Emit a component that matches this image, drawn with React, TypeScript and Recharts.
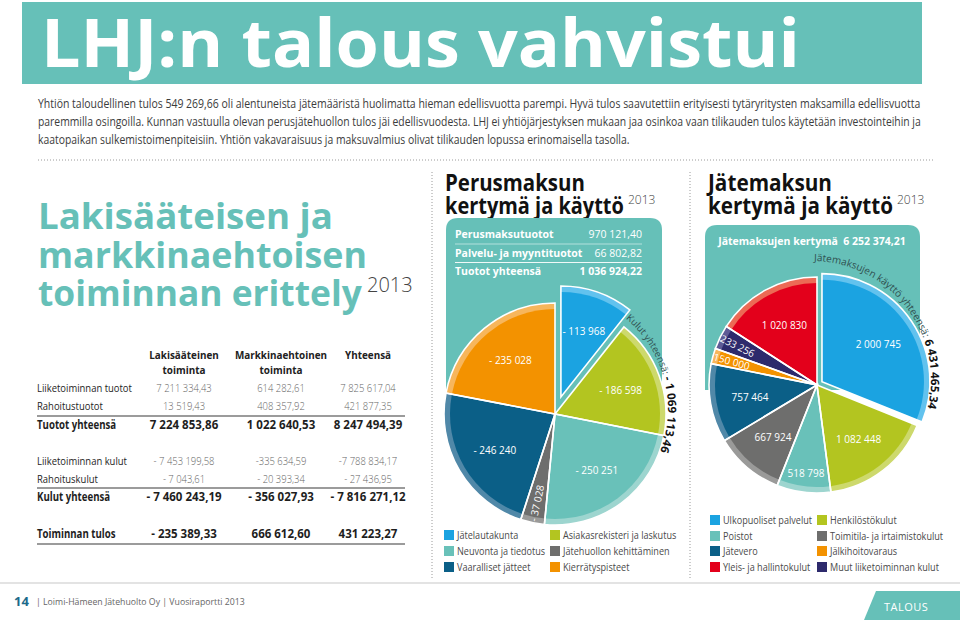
import React from "react";
import { PieChart, Pie, Cell } from "recharts";

const FONT = "'Open Sans', 'DejaVu Sans', sans-serif";
const TEAL = "#66c0b8";
const RAD = Math.PI / 180;

// intro text
const introLines = [
  "Yhtiön taloudellinen tulos 549 269,66 oli alentuneista jätemääristä huolimatta hieman edellisvuotta parempi. Hyvä tulos saavutettiin erityisesti tytäryritysten maksamilla edellisvuotta",
  "paremmilla osingoilla. Kunnan vastuulla olevan perusjätehuollon tulos jäi edellisvuodesta. LHJ ei yhtiöjärjestyksen mukaan jaa osinkoa vaan tilikauden tulos käytetään investointeihin ja",
  "kaatopaikan sulkemistoimenpiteisiin. Yhtiön vakavaraisuus ja maksuvalmius olivat tilikauden lopussa erinomaisella tasolla.",
];

// left table
const tableHeaders = [["Lakisääteinen", "toiminta"], ["Markkinaehtoinen", "toiminta"], ["Yhteensä"]];
const rowLabels = [
  "Liiketoiminnan tuotot",
  "Rahoitustuotot",
  "Tuotot yhteensä",
  "Liiketoiminnan kulut",
  "Rahoituskulut",
  "Kulut yhteensä",
  "Toiminnan tulos",
];
const lakisaateinen = ["7 211 334,43", "13 519,43", "7 224 853,86", "- 7 453 199,58", "- 7 043,61", "- 7 460 243,19", "- 235 389,33"];
const markkinaehtoinen = ["614 282,61", "408 357,92", "1 022 640,53", "-335 634,59", "- 20 393,34", "- 356 027,93", "666 612,60"];
const yhteensa = ["7 825 617,04", "421 877,35", "8 247 494,39", "-7 788 834,17", "- 27 436,95", "- 7 816 271,12", "431 223,27"];
const boldRows = [2, 5, 6];

// Perusmaksu
const perusTuototLabels = ["Perusmaksutuotot", "Palvelu- ja myyntituotot", "Tuotot yhteensä"];
const perusTuototValues = ["970 121,40", "66 802,82", "1 036 924,22"];
const perusNames = [
  "Jätelautakunta",
  "Asiakasrekisteri ja laskutus",
  "Neuvonta ja tiedotus",
  "Jätehuollon kehittäminen",
  "Vaaralliset jätteet",
  "Kierrätyspisteet",
];
const perusValues = [113968, 186598, 250251, 37028, 246240, 235028];
const perusColors = ["#1ba3e1", "#b3c520", "#69c1b9", "#6e6e6d", "#0b5f87", "#f39200"];
const perusRims = ["#62c2ee", "#cdd96c", "#9dd5cf", "#9a9a99", "#5088a8", "#f7b65c"];
const perusLegendOrder = [0, 2, 4, 1, 3, 5];

// Jätemaksu
const jateNames = [
  "Ulkopuoliset palvelut",
  "Henkilöstökulut",
  "Poistot",
  "Toimitila- ja irtaimistokulut",
  "Jätevero",
  "Jälkihoitovaraus",
  "Muut liiketoiminnan kulut",
  "Yleis- ja hallintokulut",
];
const jateValues = [2000745, 1082448, 518798, 667924, 757464, 150000, 233256, 1020830];
const jateColors = ["#1ba3e1", "#b3c520", "#69c1b9", "#6e6e6d", "#0b5f87", "#f39200", "#2d2a6c", "#e3001b"];
const jateRims = ["#62c2ee", "#cdd96c", "#9dd5cf", "#9a9a99", "#5088a8", "#f7b65c", "#5e5b96", "#ec6a55"];
const jateLegendOrder = [0, 2, 4, 7, 1, 3, 5, 6];

const fmt = (v: number) => String(v).replace(/\B(?=(\d{3})+(?!\d))/g, " ");

const measureCtx = typeof document !== "undefined" ? document.createElement("canvas").getContext("2d") : null;

// horizontal squeeze so that a line gets the printed width
function fitScale(text: string, size: number, weight: number, target: number) {
  if (!measureCtx) return 1;
  measureCtx.font = `${weight} ${size}px 'Open Sans', 'DejaVu Sans', sans-serif`;
  const w = measureCtx.measureText(text).width;
  return w > 0 ? target / w : 1;
}

function ST(props: any) {
  const { x, y, sx = 1, children, ...rest } = props;
  return (
    <text transform={`translate(${x} ${y}) scale(${sx} 1)`} {...rest}>
      {children}
    </text>
  );
}

function FitText(props: any) {
  const { text, size, weight = 400, width, ...rest } = props;
  return (
    <ST sx={fitScale(text, size, weight, width)} fontSize={size} fontWeight={weight} {...rest}>
      {text}
    </ST>
  );
}

function makeLabel(prefix: string, only: number | null, skip: number | null) {
  return (p: any) => {
    const { cx, cy, midAngle, outerRadius, percent, index, value } = p;
    if (only !== null && index !== only) return <g />;
    if (skip !== null && index === skip) return <g />;
    const span = percent * 360;
    const r = span < 35 ? outerRadius * 0.82 : outerRadius * 0.63;
    const x = cx + r * Math.cos(-midAngle * RAD);
    const y = cy + r * Math.sin(-midAngle * RAD);
    let rot = 0;
    if (span < 15) {
      rot = -(midAngle + 180);
      while (rot <= -180) rot += 360;
      while (rot > 180) rot -= 360;
    }
    return (
      <text
        x={x}
        y={y}
        transform={rot ? `rotate(${rot} ${x} ${y})` : undefined}
        textAnchor="middle"
        dominantBaseline="central"
        fill="#fff"
        fontSize={10}
        fontFamily={FONT}
      >
        {prefix + fmt(value)}
      </text>
    );
  };
}

function ExpensePie(props: {
  values: number[];
  names: string[];
  colors: string[];
  rims: string[];
  left: number;
  top: number;
  radius: number;
  explode: number;
  prefix: string;
}) {
  const { values, names, colors, rims, left, top, radius, explode, prefix } = props;
  const size = 300;
  const c = size / 2;
  const data = values.map((v, i) => ({ name: names[i], value: v }));
  const total = values.reduce((s, v) => s + v, 0);
  const mid = (90 - (values[0] / total) * 180) * RAD;
  const ex = c + explode * Math.cos(mid);
  const ey = c - explode * Math.sin(mid);
  const common = {
    data,
    dataKey: "value",
    startAngle: 90,
    endAngle: -270,
    isAnimationActive: false,
    labelLine: false,
  };
  return (
    <div style={{ position: "absolute", left: left - c, top: top - c }}>
      <PieChart width={size} height={size}>
        <Pie {...common} cx={c} cy={c} outerRadius={radius} stroke="none">
          {data.map((d, i) => (
            <Cell key={i} fill={i === 0 ? "transparent" : rims[i]} />
          ))}
        </Pie>
        <Pie {...common} cx={c} cy={c} outerRadius={radius - 6} stroke="none">
          {data.map((d, i) => (
            <Cell key={i} fill={i === 0 ? "transparent" : colors[i]} />
          ))}
        </Pie>
        <Pie {...common} cx={c} cy={c} outerRadius={radius} label={makeLabel(prefix, null, 0)}>
          {data.map((d, i) => (
            <Cell key={i} fill="none" stroke={i === 0 ? "none" : "#fff"} strokeWidth={1.6} />
          ))}
        </Pie>
        <Pie {...common} cx={ex} cy={ey} outerRadius={radius} stroke="none">
          {data.map((d, i) => (
            <Cell key={i} fill={i === 0 ? rims[i] : "transparent"} />
          ))}
        </Pie>
        <Pie {...common} cx={ex} cy={ey} outerRadius={radius - 6} stroke="none">
          {data.map((d, i) => (
            <Cell key={i} fill={i === 0 ? colors[i] : "transparent"} />
          ))}
        </Pie>
        <Pie {...common} cx={ex} cy={ey} outerRadius={radius} label={makeLabel(prefix, 0, null)}>
          {data.map((d, i) => (
            <Cell key={i} fill="none" stroke={i === 0 ? "#fff" : "none"} strokeWidth={1.6} />
          ))}
        </Pie>
      </PieChart>
    </div>
  );
}

function arc(cx: number, cy: number, r: number, a1: number, a2: number) {
  const x1 = cx + r * Math.cos(a1 * RAD);
  const y1 = cy - r * Math.sin(a1 * RAD);
  const x2 = cx + r * Math.cos(a2 * RAD);
  const y2 = cy - r * Math.sin(a2 * RAD);
  return `M ${x1} ${y1} A ${r} ${r} 0 ${a1 - a2 > 180 ? 1 : 0} 1 ${x2} ${y2}`;
}

function Legend(props: { names: string[]; colors: string[]; order: number[]; x: number[]; y: number[] }) {
  const { names, colors, order, x, y } = props;
  const perCol = y.length;
  return (
    <g>
      {order.map((idx, k) => {
        const col = Math.floor(k / perCol);
        const row = k % perCol;
        return (
          <g key={idx}>
            <rect x={x[col]} y={y[row] - 5} width={10} height={10} fill={colors[idx]} />
            <ST x={x[col] + 13} y={y[row] + 4} sx={0.79} fontSize={11.5} fill="#4a4a4a">
              {names[idx]}
            </ST>
          </g>
        );
      })}
    </g>
  );
}

export default function App() {
  const rowY = [392, 410, 429, 465, 483, 501, 538];
  const colX = [184, 281, 368];
  const cols = [lakisaateinen, markkinaehtoinen, yhteensa];
  return (
    <div style={{ position: "absolute", left: 0, top: 0, width: 960, height: 620, background: "#fff", overflow: "hidden" }}>
      <svg width={960} height={620} style={{ position: "absolute", left: 0, top: 0 }} fontFamily={FONT}>
        {/* banner */}
        <rect x={22} y={2} width={900} height={82} fill={TEAL} />
        <FitText x={41} y={67} fill="#fff" size={66} weight={700} width={759} text="LHJ:n talous vahvistui" />

        {introLines.map((t, i) => (
          <FitText key={i} x={38} y={108 + i * 18} size={12.5} fill="#3c3c3c" width={i === 2 ? 592 : 884} text={t} />
        ))}
        <line x1={38} y1={160} x2={935} y2={160} stroke="#9a9a9a" strokeDasharray="1 2" />
        <line x1={432} y1={172} x2={432} y2={578} stroke="#9a9a9a" strokeDasharray="1 2" />
        <line x1={690} y1={172} x2={690} y2={578} stroke="#9a9a9a" strokeDasharray="1 2" />

        {/* left heading */}
        <FitText x={38} y={229} fill={TEAL} size={36} weight={700} width={295} text="Lakisääteisen ja" />
        <FitText x={38} y={268} fill={TEAL} size={36} weight={700} width={329} text="markkinaehtoisen" />
        <FitText x={38} y={306} fill={TEAL} size={36} weight={700} width={324} text="toiminnan erittely" />
        <text x={367} y={292} fontSize={20} fill="#444" fontWeight={300}>2013</text>

        {/* table */}
        {tableHeaders.map((h, i) =>
          h.map((t, j) => (
            <ST key={i + "-" + j} x={colX[i]} y={359 + j * 15} sx={0.9} textAnchor="middle" fontSize={11} fontWeight={700} fill="#222">
              {t}
            </ST>
          ))
        )}
        {rowLabels.map((l, r) => {
          const bold = boldRows.includes(r);
          return (
            <g key={l}>
              <ST x={37} y={rowY[r]} sx={bold ? 0.84 : 0.86} fontSize={bold ? 11.5 : 11} fontWeight={bold ? 700 : 400} fill="#1e1e1e">
                {l}
              </ST>
              {cols.map((c, ci) => (
                <ST
                  key={ci}
                  x={colX[ci]}
                  y={rowY[r]}
                  sx={bold ? 1 : 0.9}
                  textAnchor="middle"
                  fontSize={bold ? 11.5 : 10.5}
                  fontWeight={bold ? 700 : 300}
                  fill={bold ? "#1e1e1e" : "#666"}
                >
                  {c[r]}
                </ST>
              ))}
            </g>
          );
        })}
        {[416, 488, 544].map((y) => (
          <line key={y} x1={37} y1={y} x2={405} y2={y} stroke="#7a7a7a" strokeWidth={1.6} />
        ))}

        {/* middle panel */}
        <FitText x={445} y={191} fill="#111" size={24} weight={700} width={140} text="Perusmaksun" />
        <FitText x={445} y={214} fill="#111" size={24} weight={700} width={179} text="kertymä ja käyttö" />
        <text x={628} y={204} fontSize={12} fill="#444" fontWeight={300}>2013</text>
        <path d="M446 412 V230 Q446 218 458 218 H650 Q662 218 662 230 V412 Z" fill={TEAL} />
        {perusTuototLabels.map((l, i) => (
          <g key={l} fontSize={10.5} fill="#fff">
            <text x={455} y={238 + i * 18.5} fontWeight={700}>{l}</text>
            <text x={642} y={238 + i * 18.5} textAnchor="end" fontWeight={i === 2 ? 700 : 400}>
              {perusTuototValues[i]}
            </text>
          </g>
        ))}
        <line x1={455} y1={244} x2={642} y2={244} stroke="#fff" strokeOpacity={0.5} />
        <line x1={455} y1={262.5} x2={642} y2={262.5} stroke="#fff" strokeOpacity={0.9} />

        {/* right panel */}
        <FitText x={708} y={191} fill="#111" size={24} weight={700} width={124} text="Jätemaksun" />
        <FitText x={708} y={214} fill="#111" size={24} weight={700} width={185} text="kertymä ja käyttö" />
        <text x={897} y={204} fontSize={12} fill="#444" fontWeight={300}>2013</text>
        <path d="M705 390 V237 Q705 225 717 225 H908 Q920 225 920 237 V390 Z" fill={TEAL} />
        <text x={812} y={245} textAnchor="middle" fontSize={10.5} fontWeight={700} fill="#fff">
          Jätemaksujen kertymä{"\u00a0\u00a0"}6 252 374,21
        </text>

        <Legend names={perusNames} colors={perusColors} order={perusLegendOrder} x={[444, 550]} y={[535, 551, 567]} />
        <Legend names={jateNames} colors={jateColors} order={jateLegendOrder} x={[710, 817]} y={[520, 536, 551, 567]} />

        {/* footer */}
        <rect x={0} y={582} width={960} height={2} fill="#e3e3e3" />
        <text x={14} y={606} fontSize={13} fontWeight={700} fill="#1d6a8a">14</text>
        <ST x={36} y={605} sx={0.92} fontSize={9.5} fill="#666">| Loimi-Hämeen Jätehuolto Oy | Vuosiraportti 2013</ST>
        <polygon points="876,591 960,591 960,620 864,620" fill={TEAL} />
        <text x={884} y={611} fontSize={11} fill="#fff" letterSpacing={0.5}>TALOUS</text>
      </svg>

      <ExpensePie
        values={perusValues}
        names={perusNames}
        colors={perusColors}
        rims={perusRims}
        left={550}
        top={409}
        radius={111}
        explode={18}
        prefix="- "
      />
      <ExpensePie
        values={jateValues}
        names={jateNames}
        colors={jateColors}
        rims={jateRims}
        left={812}
        top={380}
        radius={108}
        explode={6}
        prefix=""
      />

      <svg width={960} height={620} style={{ position: "absolute", left: 0, top: 0, pointerEvents: "none" }} fontFamily={FONT}>
        <defs>
          <path id="arcPerus" d={arc(550, 409, 118, 50, -60)} />
          <path id="arcJate" d={arc(812, 380, 119, 89, -40)} />
        </defs>
        <text>
          <textPath href="#arcPerus">
            <tspan fontSize={9.5} fill="#2f4f4f">Kulut yhteensä: </tspan>
            <tspan fontSize={11.5} fontWeight={700} fill="#111">- 1 069 113,46</tspan>
          </textPath>
        </text>
        <text>
          <textPath href="#arcJate">
            <tspan fontSize={10} fill="#2f4f4f">Jätemaksujen käyttö yhteensä: </tspan>
            <tspan fontSize={11.5} fontWeight={700} fill="#111">6 431 465,34</tspan>
          </textPath>
        </text>
      </svg>
    </div>
  );
}
